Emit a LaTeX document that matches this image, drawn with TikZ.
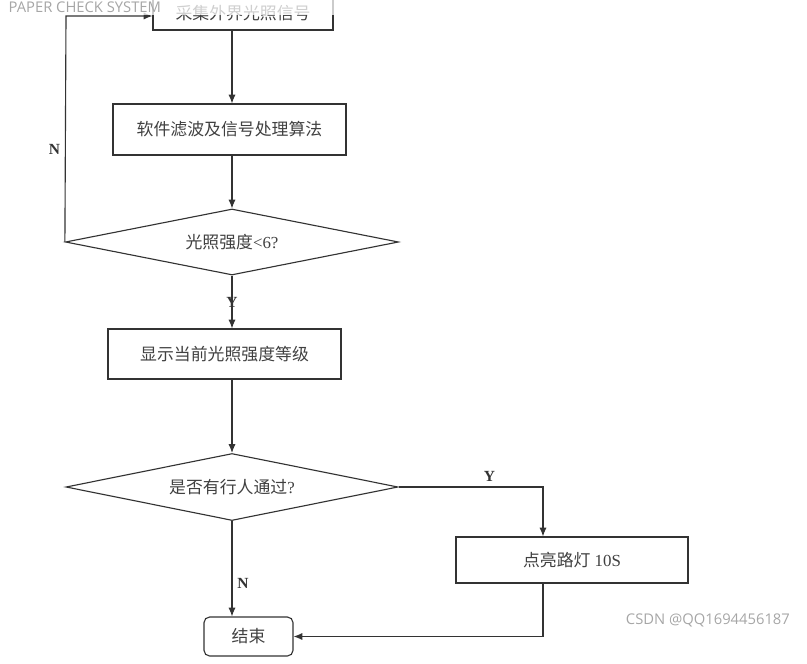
\documentclass[tikz,border=0pt]{standalone}
\usepackage{fontspec}
\setmainfont{Liberation Serif}
\newfontfamily\cjk{Noto Sans CJK SC}
\newfontfamily\wmfont{Open Sans}
\usetikzlibrary{shapes.geometric,arrows.meta}
\tikzset{
  flowbox/.style={rectangle,draw=black!80,line width=0.8pt,text=black!75,font=\fontsize{12}{14}\selectfont},
  endbox/.style={flowbox,rounded corners=4pt},
  decision/.style={diamond,draw=black!80,line width=0.8pt,inner sep=0pt,aspect=5,text=black!75,font=\fontsize{12}{14}\selectfont},
  flowarrow/.style={draw=black!80,line width=0.8pt,-{Latex[length=2.2mm,width=1.8mm]}},
  branch/.style={text=black!80,font=\fontsize{11}{13}\selectfont\bfseries},
  watermark/.style={text=black!35,font=\wmfont\fontsize{10.5}{12}\selectfont}
}
\begin{document}
\begin{tikzpicture}[x=0.025cm,y=-0.025cm]
  \useasboundingbox (0,0) rectangle (807,663);
  \clip (0,0) rectangle (807,663);
  \node[flowbox,minimum width=4.5cm,minimum height=0.85cm] (sense) at (243,13) {\cjk 采集外界光照信号};
  \node[flowbox,minimum width=5.825cm,minimum height=1.275cm] (filt) at (229.5,129.5) {\cjk 软件滤波及信号处理算法};
  \node[decision,minimum width=8.325cm,minimum height=1.65cm] (d1) at (232,242) {{\cjk 光照强度}<6?};
  \node[flowbox,minimum width=5.825cm,minimum height=1.25cm] (show) at (224.5,354) {\cjk 显示当前光照强度等级};
  \node[decision,minimum width=8.3cm,minimum height=1.675cm] (d2) at (232,487) {{\cjk 是否有行人通过}?};
  \node[flowbox,minimum width=5.8cm,minimum height=1.15cm] (light) at (572,560) {{\cjk 点亮路灯} 10S};
  \node[endbox,minimum width=2.225cm,minimum height=0.975cm] (end) at (248.5,636.5) {\cjk 结束};
  \coordinate (back) at (66,16);
  \coordinate (turn) at (543,487);
  % main column
  \draw[flowarrow] (sense.south -| d1.north) -- (filt.north -| d1.north);
  \draw[flowarrow] (filt.south -| d1.north) -- (d1.north);
  \draw[flowarrow] (d1.south) -- node[branch] {Y} (show.north -| d1.south);
  \draw[flowarrow] (show.south -| d2.north) -- (d2.north);
  \draw[flowarrow] (d2.south) -- node[branch,right,pos=0.65] {N} (d2.south |- end.north);
  % loop back
  \draw[flowarrow] (d1.west) -- node[branch,left,pos=0.41] {N} (back) -- (back -| sense.west);
  % right branch
  \draw[flowarrow] (d2.east) -- node[branch,above,pos=0.63] {Y} (turn) -- (turn |- light.north);
  \draw[flowarrow] (turn |- light.south) |- (end.east);
  % watermarks
  \fill[white,opacity=0.75] (0,0) rectangle (807,15);
  \node[watermark,anchor=east] (wm1) at (166,7) {PAPER CHECK SYSTEM};
  \node[watermark,anchor=west] (wm2) at (621,620) {CSDN @QQ1694456187};
\end{tikzpicture}
\end{document}
